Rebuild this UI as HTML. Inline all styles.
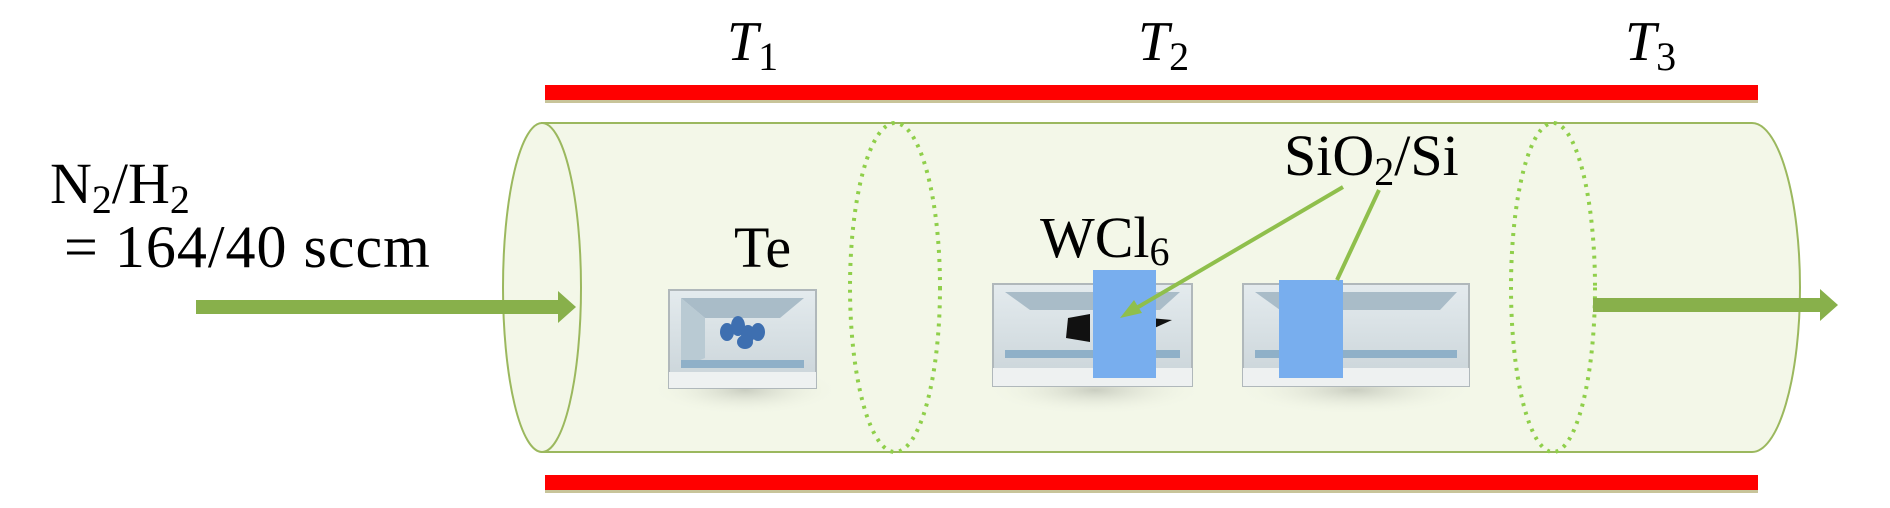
<!DOCTYPE html>
<html><head><meta charset="utf-8"><style>
html,body{margin:0;padding:0;background:#fff;}
svg{display:block;}
</style></head><body>
<svg width="1890" height="508" viewBox="0 0 1890 508" xmlns="http://www.w3.org/2000/svg">
<defs>
<linearGradient id="boat" x1="0" y1="0" x2="0" y2="1">
<stop offset="0" stop-color="#e4ebee"/><stop offset="1" stop-color="#c9d3d8"/>
</linearGradient>
<radialGradient id="sh" cx="0.5" cy="0.5" r="0.5"><stop offset="0" stop-color="#b8bcb0" stop-opacity="0.7"/><stop offset="1" stop-color="#f3f7e8" stop-opacity="0"/></radialGradient>
</defs>
<rect x="545" y="85" width="1213" height="15" fill="#f00"/>
<rect x="545" y="100" width="1213" height="3" fill="#c8c49a"/>
<rect x="545" y="475" width="1213" height="15" fill="#f00"/>
<rect x="545" y="490" width="1213" height="3" fill="#c8c49a"/>
<path d="M542 123 L1752 123 A48 164.5 0 0 1 1752 452 L542 452 Z" fill="#f3f7e8" stroke="#9bb85e" stroke-width="2"/>
<ellipse cx="542" cy="287.5" rx="39" ry="164.5" fill="#f3f7e8" stroke="#9bb85e" stroke-width="2"/>
<ellipse cx="895" cy="287.5" rx="45" ry="164.5" fill="none" stroke="#8fcf4a" stroke-width="4" stroke-dasharray="3 6"/>
<ellipse cx="1553" cy="287.5" rx="42" ry="164.5" fill="none" stroke="#8fcf4a" stroke-width="4" stroke-dasharray="3 6"/>
<rect x="196" y="300" width="365" height="14" fill="#88b04b"/>
<polygon points="558,291 576,307 558,323" fill="#88b04b"/>
<rect x="1593" y="298" width="230" height="14" fill="#88b04b"/>
<polygon points="1820,289 1838,305 1820,321" fill="#88b04b"/>
<ellipse cx="745" cy="390" rx="95" ry="25" fill="url(#sh)"/>
<rect x="669" y="290" width="147" height="98" fill="url(#boat)" stroke="#b0b8bb" stroke-width="2"/>
<polygon points="681,298 804,298 780,318 705,318" fill="#a9bcc8"/>
<polygon points="681,298 705,318 705,358 681,368" fill="#b9cad3"/>
<rect x="681" y="360" width="123" height="8" fill="#8fb0c8"/>
<rect x="669" y="372" width="147" height="16" fill="#eef1f1"/>
<g fill="#3e6fb0">
<ellipse cx="727" cy="332" rx="7" ry="9"/><ellipse cx="738" cy="326" rx="7" ry="10"/><ellipse cx="748" cy="334" rx="7" ry="9"/><ellipse cx="758" cy="332" rx="7" ry="9"/><ellipse cx="745" cy="342" rx="8" ry="7"/>
</g>
<ellipse cx="1095" cy="390" rx="110" ry="25" fill="url(#sh)"/>
<rect x="993" y="284" width="199" height="102" fill="url(#boat)" stroke="#b0b8bb" stroke-width="2"/>
<polygon points="1005,292 1180,292 1160,310 1030,310" fill="#a9bcc8"/>
<rect x="1005" y="350" width="175" height="8" fill="#8fb0c8"/>
<rect x="993" y="368" width="199" height="18" fill="#eef1f1"/>
<path d="M1068 318 L1090 314 L1090 342 L1066 338 Z" fill="#111"/>
<path d="M1150 318 L1172 320 L1150 330 Z" fill="#111"/>
<rect x="1093" y="270" width="63" height="108" fill="#78aeee"/>
<ellipse cx="1355" cy="390" rx="120" ry="25" fill="url(#sh)"/>
<rect x="1243" y="284" width="226" height="102" fill="url(#boat)" stroke="#b0b8bb" stroke-width="2"/>
<polygon points="1255,292 1457,292 1440,310 1280,310" fill="#a9bcc8"/>
<rect x="1255" y="350" width="202" height="8" fill="#8fb0c8"/>
<rect x="1243" y="368" width="226" height="18" fill="#eef1f1"/>
<rect x="1279" y="280" width="64" height="98" fill="#78aeee"/>
<line x1="1343" y1="187" x2="1128" y2="313" stroke="#8fbf4c" stroke-width="4"/>
<polygon points="1120,318 1134,300 1142,313" fill="#8fbf4c"/>
<line x1="1379" y1="190" x2="1337" y2="280" stroke="#8fbf4c" stroke-width="4"/>
<g font-family="Liberation Serif, DejaVu Serif, serif" fill="#000">
<text x="727" y="60" font-size="56" font-style="italic">T<tspan font-size="40" font-style="normal" dy="10">1</tspan></text>
<text x="1138" y="60" font-size="56" font-style="italic">T<tspan font-size="40" font-style="normal" dy="10">2</tspan></text>
<text x="1625" y="60" font-size="56" font-style="italic">T<tspan font-size="40" font-style="normal" dy="10">3</tspan></text>
<text x="50" y="203" font-size="58">N<tspan font-size="40" dy="10">2</tspan><tspan dy="-10">/H</tspan><tspan font-size="40" dy="10">2</tspan></text>
<text x="64" y="267" font-size="60" letter-spacing="1">= 164/40 sccm</text>
<text x="734" y="267" font-size="58">Te</text>
<text x="1040" y="257" font-size="58">WCl<tspan font-size="40" dy="8">6</tspan></text>
<text x="1284" y="175" font-size="58">SiO<tspan font-size="40" dy="10">2</tspan><tspan dy="-10">/Si</tspan></text>
</g>
</svg>
</body></html>
